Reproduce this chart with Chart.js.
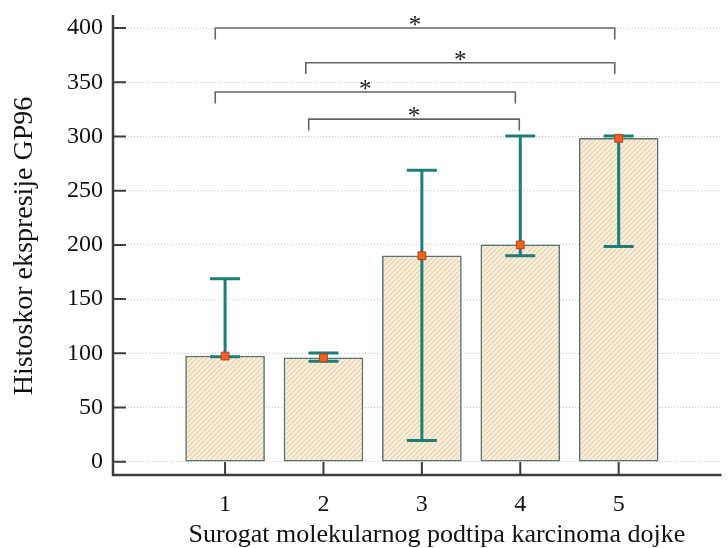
<!DOCTYPE html>
<html>
<head>
<meta charset="utf-8">
<script src="https://cdn.jsdelivr.net/npm/chart.js@4.4.1/dist/chart.umd.min.js"></script>
<style>
  html, body { margin: 0; padding: 0; background: #ffffff; }
  canvas { display: block; }
</style>
</head>
<body>
<canvas id="c" width="728" height="548"></canvas>
<script>
// ---- data ----
const categories = [1, 2, 3, 4, 5];
const means      = [97.5, 95.8, 190, 200, 298.3];
const errLow     = [96.9, 92.8, 19.6, 190, 198.5];
const errHigh    = [168.7, 100.2, 268.8, 300.5, 300.5];
const yTicks     = [0, 50, 100, 150, 200, 250, 300, 350, 400];
// significance brackets (x from, x to, level in y units)
const bracketFrom  = [0.90, 1.82, 0.90, 1.85];
const bracketTo    = [4.96, 4.96, 3.95, 3.99];
const bracketLevel = [400, 368, 341, 316];
const bracketLabel = ['*', '*', '*', '*'];

const xTitle = 'Surogat molekularnog podtipa karcinoma dojke';
const yTitle = 'Histoskor ekspresije GP96';

const SERIF = '"Liberation Serif", "Times New Roman", serif';

// hatched beige fill
function makePattern() {
  const s = 5;
  const p = document.createElement('canvas');
  p.width = s; p.height = s;
  const g = p.getContext('2d');
  g.fillStyle = '#f9eedb';
  g.fillRect(0, 0, s, s);
  g.strokeStyle = '#e5cfa6';
  g.lineWidth = 1.1;
  g.beginPath();
  g.moveTo(-1, s + 1); g.lineTo(s + 1, -1);
  g.moveTo(-1, 1); g.lineTo(1, -1);
  g.moveTo(s - 1, s + 1); g.lineTo(s + 1, s - 1);
  g.stroke();
  return g.createPattern(p, 'repeat');
}
const ctx0 = document.getElementById('c').getContext('2d');
const hatch = makePattern();

const errorBarPlugin = {
  id: 'errorBars',
  afterDatasetDraw(chart, args) {
    if (args.index !== 0) return;
    const { ctx, scales: { x, y } } = chart;
    ctx.save();
    ctx.strokeStyle = '#1d7d79';
    ctx.lineWidth = 3;
    ctx.lineCap = 'butt';
    categories.forEach((c, i) => {
      const px = x.getPixelForValue(c);
      const yl = y.getPixelForValue(errLow[i]);
      const yh = y.getPixelForValue(errHigh[i]);
      ctx.beginPath();
      ctx.moveTo(px, yl); ctx.lineTo(px, yh);
      ctx.moveTo(px - 15, yh); ctx.lineTo(px + 15, yh);
      ctx.moveTo(px - 15, yl); ctx.lineTo(px + 15, yl);
      ctx.stroke();
    });
    ctx.restore();
  }
};

const decorPlugin = {
  id: 'decor',
  afterDraw(chart) {
    const { ctx, chartArea: a, scales: { x, y } } = chart;
    ctx.save();
    // axis lines
    ctx.setLineDash([]);
    ctx.strokeStyle = '#3d3d3d';
    ctx.lineWidth = 2.5;
    ctx.beginPath();
    ctx.moveTo(a.left, a.top); ctx.lineTo(a.left, a.bottom);
    ctx.moveTo(a.left - 1.25, a.bottom); ctx.lineTo(a.right, a.bottom);
    ctx.stroke();
    // inward ticks
    ctx.lineWidth = 2;
    ctx.beginPath();
    yTicks.forEach(v => {
      const py = y.getPixelForValue(v);
      ctx.moveTo(a.left, py); ctx.lineTo(a.left + 13, py);
    });
    categories.forEach(c => {
      const px = x.getPixelForValue(c);
      ctx.moveTo(px, a.bottom); ctx.lineTo(px, a.bottom - 13);
    });
    ctx.stroke();
    // brackets
    ctx.strokeStyle = '#666666';
    ctx.lineWidth = 1.6;
    ctx.fillStyle = '#222222';
    ctx.font = '25px ' + SERIF;
    ctx.textAlign = 'center';
    ctx.textBaseline = 'alphabetic';
    bracketLevel.forEach((lv, i) => {
      const x1 = x.getPixelForValue(bracketFrom[i]);
      const x2 = x.getPixelForValue(bracketTo[i]);
      const py = y.getPixelForValue(lv);
      const pl = y.getPixelForValue(lv - 10.5);
      ctx.beginPath();
      ctx.moveTo(x1, pl); ctx.lineTo(x1, py); ctx.lineTo(x2, py); ctx.lineTo(x2, pl);
      ctx.stroke();
      ctx.fillText(bracketLabel[i], (x1 + x2) / 2, py + 5);
    });
    // axis titles
    ctx.fillStyle = '#111111';
    ctx.font = '26px ' + SERIF;
    ctx.textBaseline = 'middle';
    ctx.fillText(xTitle, 437, 535);
    ctx.font = '28px ' + SERIF;
    ctx.translate(25, 246);
    ctx.rotate(-Math.PI / 2);
    ctx.fillText(yTitle, 0, 0);
    ctx.restore();
  }
};

new Chart(ctx0, {
  type: 'bar',
  data: {
    datasets: [
      {
        type: 'bar',
        data: categories.map((c, i) => ({ x: c, y: means[i] })),
        backgroundColor: hatch,
        borderColor: '#587373',
        borderWidth: 1.5,
        borderSkipped: false,
        barThickness: 79,
        order: 2
      },
      {
        type: 'scatter',
        data: categories.map((c, i) => ({ x: c, y: means[i] })),
        pointStyle: 'rect',
        pointRadius: 5.5,
        backgroundColor: '#f0621f',
        borderColor: '#b3401c',
        borderWidth: 1,
        order: 1
      }
    ]
  },
  options: {
    responsive: false,
    animation: false,
    devicePixelRatio: 1,
    layout: { padding: { top: 15, right: 0, left: 0, bottom: 0 } },
    plugins: { legend: { display: false }, tooltip: { enabled: false } },
    scales: {
      x: {
        type: 'linear',
        offset: false,
        min: -0.139,
        max: 6.045,
        afterFit(s) { s.height = 73; s.paddingLeft = 0; s.paddingRight = 0; },
        afterBuildTicks(s) { s.ticks = categories.map(v => ({ value: v })); },
        grid: { display: false, drawTicks: false, offset: false },
        border: { display: false },
        ticks: {
          color: '#111111',
          font: { family: SERIF, size: 24 },
          padding: 15,
          maxRotation: 0,
          autoSkip: false
        }
      },
      y: {
        type: 'linear',
        min: -12.2,
        max: 412,
        afterFit(s) { s.width = 113; s.paddingTop = 0; s.paddingBottom = 0; },
        afterBuildTicks(s) { s.ticks = yTicks.map(v => ({ value: v })); },
        grid: { color: '#c4c4c4', lineWidth: 1, drawTicks: false },
        border: { display: false, dash: [1, 2] },
        ticks: {
          color: '#111111',
          font: { family: SERIF, size: 24 },
          padding: 10
        }
      }
    }
  },
  plugins: [errorBarPlugin, decorPlugin]
});
</script>
</body>
</html>
